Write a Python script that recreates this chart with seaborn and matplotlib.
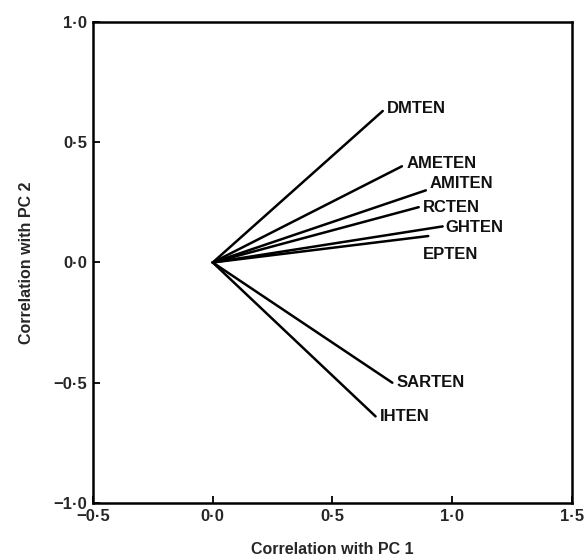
import matplotlib
matplotlib.use("Agg")
import matplotlib.pyplot as plt
import seaborn as sns
import pandas as pd

variables = ["DMTEN", "AMETEN", "AMITEN", "RCTEN", "GHTEN", "EPTEN", "SARTEN", "IHTEN"]
pc1 = [0.71, 0.79, 0.89, 0.86, 0.96, 0.90, 0.75, 0.68]
pc2 = [0.63, 0.40, 0.30, 0.23, 0.15, 0.11, -0.50, -0.64]
xticks = [-0.5, 0.0, 0.5, 1.0, 1.5]
yticks = [-1.0, -0.5, 0.0, 0.5, 1.0]
xticklabels = ["\u22120\u00b75", "0\u00b70", "0\u00b75", "1\u00b70", "1\u00b75"]
yticklabels = ["\u22121\u00b70", "\u22120\u00b75", "0\u00b70", "0\u00b75", "1\u00b70"]
# label offsets in points (dx, dy)
label_offsets = [(3, 2), (3, 2), (3, 5), (3, 0), (2, -1), (-4, -13), (3, 0), (3, 0)]

sns.set_theme(style="white")
plt.rcParams["font.family"] = ["Liberation Sans", "DejaVu Sans"]

rows = []
for v, x, y in zip(variables, pc1, pc2):
    rows.append({"var": v, "pc1": 0.0, "pc2": 0.0, "ord": 0})
    rows.append({"var": v, "pc1": x, "pc2": y, "ord": 1})
df = pd.DataFrame(rows)

fig = plt.figure(figsize=(5.86, 5.58), dpi=100)
ax = fig.add_axes([0.1587, 0.0986, 0.8173, 0.862])

sns.lineplot(data=df, x="pc1", y="pc2", units="var", estimator=None, sort=False,
             color="black", linewidth=1.8, ax=ax)

for v, x, y, (dx, dy) in zip(variables, pc1, pc2, label_offsets):
    ax.annotate(v, (x, y), xytext=(dx, dy), textcoords="offset points",
                ha="left", va="center", fontsize=12, fontweight="bold",
                color="#111111")

ax.set_xlim(-0.5, 1.5)
ax.set_ylim(-1.0, 1.0)
ax.set_xticks(xticks)
ax.set_xticklabels(xticklabels, fontsize=12, fontweight="bold")
ax.set_yticks(yticks)
ax.set_yticklabels(yticklabels, fontsize=12, fontweight="bold")
ax.tick_params(direction="in", length=5, width=1.3, color="black",
               bottom=True, left=True, top=False, right=False, pad=4)
ax.set_xlabel("Correlation with PC 1", fontsize=11.5, fontweight="bold", labelpad=13)
ax.set_ylabel("Correlation with PC 2", fontsize=11.5, fontweight="bold", labelpad=14)
for s in ax.spines.values():
    s.set_color("black")
    s.set_linewidth(1.8)
ax.grid(False)

fig.savefig("out.png", dpi=100)
